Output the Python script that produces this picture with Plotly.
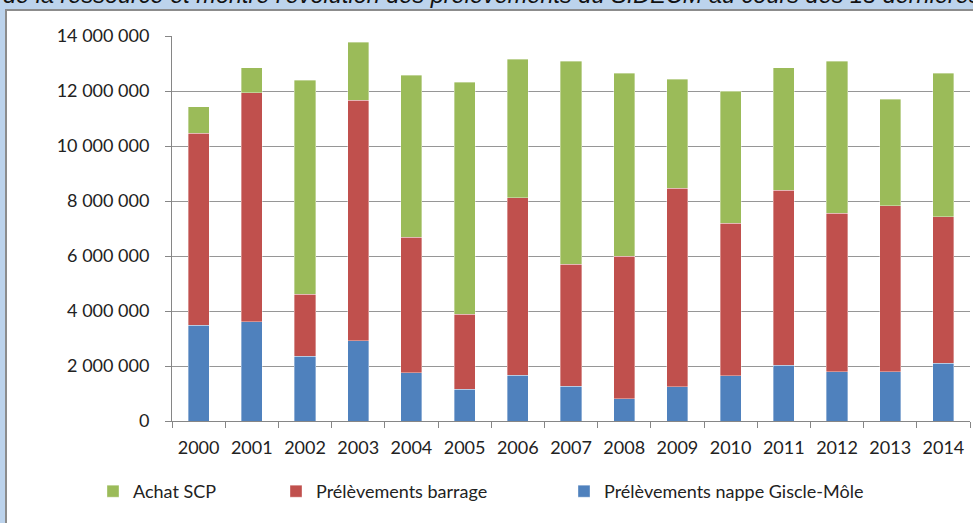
import plotly.graph_objects as go

years = [str(y) for y in range(2000, 2015)]
nappe = [3490000, 3610000, 2360000, 2910000, 1750000, 1160000, 1660000, 1270000,
         810000, 1240000, 1640000, 2020000, 1790000, 1790000, 2100000]
barrage = [6970000, 8330000, 2250000, 8750000, 4940000, 2720000, 6460000, 4430000,
           5190000, 7230000, 5560000, 6370000, 5760000, 6030000, 5330000]
achat = [970000, 910000, 7780000, 2110000, 5890000, 8440000, 5030000, 7380000,
         6650000, 3950000, 4790000, 4460000, 5530000, 3880000, 5220000]
series_names = ["Prélèvements nappe Giscle-Môle", "Prélèvements barrage", "Achat SCP"]
y_ticks = [0, 2000000, 4000000, 6000000, 8000000, 10000000, 12000000, 14000000]
caption = "de la ressource et montre l'évolution des prélèvements du SIDECM au cours des 15 dernières années"

W, H = 973, 523
L, R, T, B = 172, 3, 36, 102
PW, PH = W - L - R, H - T - B

def px(x):
    return (x - L) / PW

def py(y):
    return (H - B - y) / PH

FONT = "Lato, 'Open Sans', sans-serif"
colors = ["#4F81BD", "#C0504D", "#9BBB59"]
legend_widths = [None, 243, 138]

fig = go.Figure()
for name, vals, col, lw in zip(series_names, [nappe, barrage, achat], colors, legend_widths):
    kw = {}
    if lw is not None:
        kw["legendwidth"] = lw
    fig.add_trace(go.Bar(x=years, y=vals, name=name,
                         marker=dict(color=col, line=dict(width=0.6, color="rgba(255,255,255,0.6)")),
                         **kw))

fig.update_layout(
    width=W, height=H,
    margin=dict(l=L, r=R, t=T, b=B, pad=0),
    barmode="stack", bargap=0.605,
    paper_bgcolor="white", plot_bgcolor="white",
    separators=", ",
    font=dict(family=FONT, size=18, color="#222222"),
    legend=dict(orientation="h", traceorder="reversed", x=px(93), xanchor="left",
                y=py(473), yanchor="top", font=dict(family=FONT, size=18, color="#222222"),
                itemwidth=30, bgcolor="rgba(0,0,0,0)"),
    xaxis=dict(type="category", tickson="boundaries", ticks="outside", ticklen=6,
               tickcolor="#868686", showline=True, linecolor="#868686", linewidth=1,
               showgrid=False, tickfont=dict(size=18), ticklabelstandoff=10),
    yaxis=dict(range=[0, 14000000], tickvals=y_ticks, tickformat=",d", ticks="outside",
               ticklen=6, tickcolor="#868686", showline=True, linecolor="#868686",
               linewidth=1, gridcolor="#969696", gridwidth=1, zeroline=False,
               ticklabelstandoff=12, tickfont=dict(size=18)),
    showlegend=True,
)

shapes = [
    dict(type="rect", xref="paper", yref="paper", x0=px(0), x1=px(W), y0=py(9), y1=py(0),
         fillcolor="#BCD3EC", line=dict(width=0), layer="below"),
    dict(type="rect", xref="paper", yref="paper", x0=px(0), x1=px(5), y0=py(H), y1=py(0),
         fillcolor="#BCD3EC", line=dict(width=0), layer="below"),
    dict(type="line", xref="paper", yref="paper", x0=px(5), x1=px(W), y0=py(10), y1=py(10),
         line=dict(color="#8C8C8C", width=2), layer="below"),
    dict(type="line", xref="paper", yref="paper", x0=px(6), x1=px(6), y0=py(9), y1=py(H),
         line=dict(color="#8C8C8C", width=2), layer="below"),
]
fig.update_layout(shapes=shapes)

fig.add_annotation(text="<i>" + caption + "</i>", xref="paper", yref="paper",
                   x=px(1), y=py(-5), xanchor="left", yanchor="middle", showarrow=False,
                   font=dict(family="'Liberation Sans', Arial, sans-serif", size=23.5, color="#111111"))

fig.write_html("out.html", config={"displayModeBar": False},
               post_script="document.body.style.margin='0';document.body.style.padding='0';document.body.style.overflow='hidden';")
